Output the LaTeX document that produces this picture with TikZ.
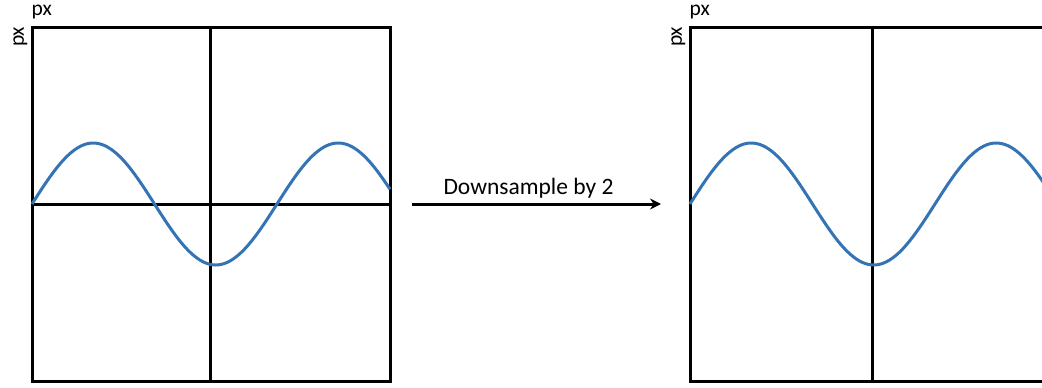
\documentclass[tikz,border=0pt]{standalone}
\usepackage{fontspec}
\setmainfont{Carlito}
\usetikzlibrary{arrows.meta,calc}
\definecolor{wave}{RGB}{52,116,181}
\begin{document}
\begin{tikzpicture}[x=1pt,y=-1pt,
  frame/.style={draw=black,line width=3pt,inner sep=0pt,minimum width=358pt,minimum height=354pt},
  axis/.style={draw=black,line width=3pt},
  curve/.style={draw=wave,line width=3pt},
  lbl/.style={inner sep=0pt,font=\fontsize{21.5}{24}\selectfont},
  flow/.style={draw=black,line width=3pt,-{Stealth[length=11pt,width=11pt]}}]
\useasboundingbox (0,0) rectangle (1042,388);
\clip (0,0) rectangle (1042,388);

% left panel: original signal
\node[frame] (lbox) at (211,204) {};
\draw[axis] (lbox.west) -- (lbox.east);
\draw[axis] ([xshift=-1pt]lbox.north) -- ([xshift=-1pt]lbox.south);
\draw[curve] plot[domain=0:358,samples=120,smooth] ({32+\x},{204-61*sin(\x/245*360)});
\node[lbl,anchor=south west] (ltop) at ([xshift=1pt,yshift=6pt]lbox.north west) {px};
\node[lbl,rotate=90,anchor=south east] (lside) at ([xshift=-3pt,yshift=-1pt]lbox.north west) {px};

% right panel: downsampled signal
\node[frame] (rbox) at (869,204) {};
\draw[axis] ([xshift=3pt]rbox.north) -- ([xshift=3pt]rbox.south);
\draw[curve] plot[domain=0:360,samples=120,smooth] ({690+\x},{204-61*sin(\x/245*360)});
\node[lbl,anchor=south west] (rtop) at ([xshift=1pt,yshift=6pt]rbox.north west) {px};
\node[lbl,rotate=90,anchor=south east] (rside) at ([xshift=-3pt,yshift=-1pt]rbox.north west) {px};

% operation arrow
\coordinate (a0) at (412,204);
\coordinate (a1) at (661,204);
\draw[flow] (a0) -- (a1);
\node[font=\fontsize{23.5}{26}\selectfont,anchor=south,inner sep=0pt] (op) at ([xshift=-8pt,yshift=6pt]$(a0)!0.5!(a1)$) {Downsample by 2};
\end{tikzpicture}
\end{document}
